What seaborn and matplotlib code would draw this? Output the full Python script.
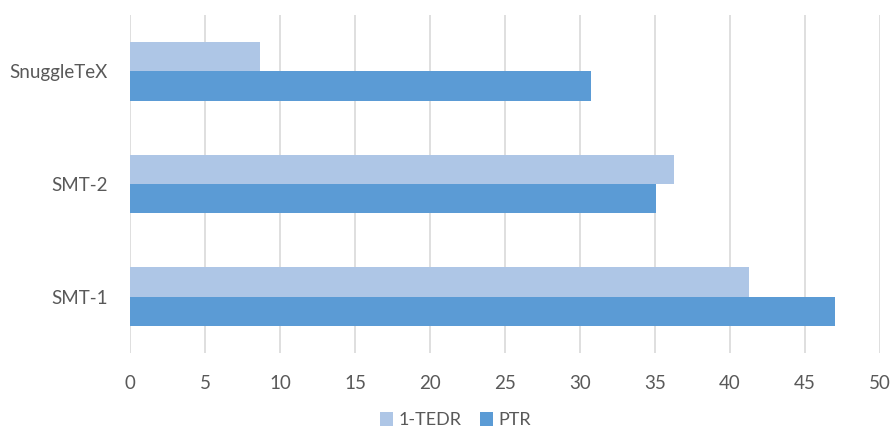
import matplotlib
matplotlib.use("Agg")
import matplotlib.pyplot as plt
import seaborn as sns
import pandas as pd

# Chart data
systems = ["SnuggleTeX", "SMT-2", "SMT-1"]
series_names = ["1-TEDR", "PTR"]
tedr_values = [8.67, 36.27, 41.29]
ptr_values = [30.7, 35.07, 47.0]
x_ticks = [0, 5, 10, 15, 20, 25, 30, 35, 40, 45, 50]

df = pd.DataFrame({
    "system": systems * 2,
    "series": [series_names[0]] * len(systems) + [series_names[1]] * len(systems),
    "value": tedr_values + ptr_values,
})

sns.set_theme(style="white")
plt.rcParams["font.family"] = ["Lato", "DejaVu Sans"]
text_color = "#595959"

fig = plt.figure(figsize=(8.93, 4.32), dpi=100)
ax = fig.add_axes([130 / 893, 1 - 353 / 432, 750 / 893, 338 / 432])

palette = {"1-TEDR": "#AEC6E6", "PTR": "#5B9BD5"}
sns.barplot(data=df, x="value", y="system", hue="series", order=systems,
            hue_order=series_names, palette=palette, orient="h",
            width=0.52, saturation=1, ax=ax, edgecolor="none", legend=True)

ax.set_xlim(0, 50)
ax.set_xticks(x_ticks)
ax.set_xticklabels([str(t) for t in x_ticks])
ax.grid(axis="x", color="#D9D9D9", linewidth=1.2)
ax.set_axisbelow(True)
for s in ax.spines.values():
    s.set_visible(False)
ax.tick_params(axis="both", length=0, labelsize=13.5, colors=text_color)
ax.tick_params(axis="x", pad=16)
ax.tick_params(axis="y", pad=16)
ax.set_xlabel("")
ax.set_ylabel("")

handles, labels = ax.get_legend_handles_labels()
ax.get_legend().remove()
fig.legend(handles, labels, loc="center", bbox_to_anchor=(0.51, 0.027), ncol=2,
           frameon=False, handlelength=0.75, handleheight=0.75, handletextpad=0.3,
           columnspacing=1.0, fontsize=13, labelcolor=text_color)

fig.savefig("out.png", dpi=100)
